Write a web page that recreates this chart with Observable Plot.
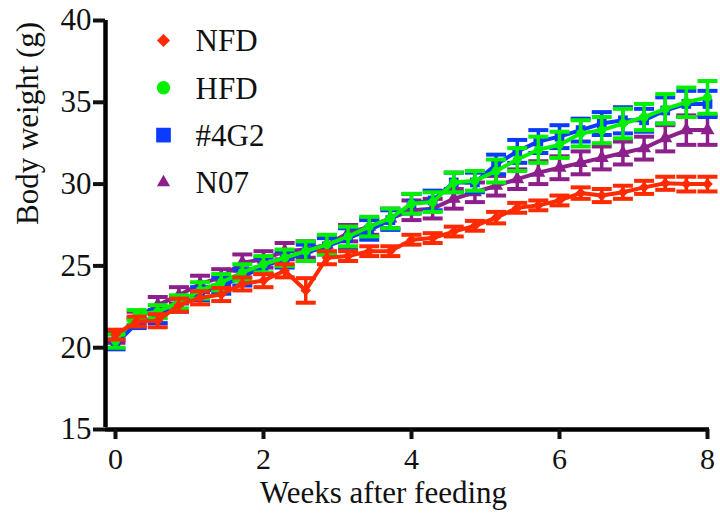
<!DOCTYPE html>
<html>
<head>
<meta charset="utf-8">
<script src="https://cdn.jsdelivr.net/npm/d3@7"></script>
<script src="https://cdn.jsdelivr.net/npm/@observablehq/plot@0.6"></script>
<style>
  html, body { margin: 0; padding: 0; background: #fff; }
  svg text { font-family: "Liberation Serif", "Times New Roman", serif !important; }
</style>
</head>
<body>
<div id="chart"></div>
<script>
const weeks = [0, 0.286, 0.571, 0.857, 1.143, 1.429, 1.714, 2, 2.286, 2.571, 2.857, 3.143, 3.429, 3.714, 4, 4.286, 4.571, 4.857, 5.143, 5.429, 5.714, 6, 6.286, 6.571, 6.857, 7.143, 7.429, 7.714, 8];

const seriesNames = ["NFD", "HFD", "#4G2", "N07"];
const seriesColors = ["#ff2a00", "#00f000", "#0a3cff", "#8c1f8c"];
const seriesSymbols = ["diamond2", "circle", "square", "triangle"];

const nfd = [20.8, 21.6, 21.65, 22.6, 23.05, 23.25, 23.9, 24.1, 24.7, 23.5, 25.5, 25.6, 25.9, 25.9, 26.6, 26.7, 27.1, 27.45, 27.95, 28.55, 28.7, 29.0, 29.45, 29.3, 29.5, 29.8, 30.05, 30.0, 30.0];
const nfdErr = [0.3, 0.3, 0.4, 0.4, 0.4, 0.4, 0.4, 0.4, 0.4, 0.75, 0.4, 0.3, 0.3, 0.3, 0.3, 0.3, 0.3, 0.3, 0.35, 0.3, 0.3, 0.3, 0.35, 0.4, 0.4, 0.4, 0.4, 0.45, 0.45];

const hfd = [20.4, 22.0, 22.2, 22.8, 23.5, 24.0, 24.6, 25.1, 25.5, 25.9, 26.3, 26.8, 27.4, 27.9, 28.8, 28.9, 30.1, 30.2, 30.8, 31.5, 32.1, 32.4, 33.1, 33.3, 33.7, 34.1, 34.6, 35.0, 35.3];
const hfdErr = [0.4, 0.3, 0.4, 0.4, 0.5, 0.5, 0.5, 0.5, 0.5, 0.6, 0.6, 0.6, 0.6, 0.6, 0.6, 0.6, 0.6, 0.6, 0.7, 0.7, 0.8, 0.8, 0.8, 0.8, 0.9, 0.8, 0.9, 0.9, 1.0];

const g4g2 = [20.2, 21.5, 21.9, 22.6, 23.3, 23.8, 24.3, 25.0, 25.4, 25.8, 26.2, 26.7, 27.2, 27.8, 28.8, 29.0, 30.1, 30.1, 31.2, 32.0, 32.6, 32.9, 33.3, 33.7, 33.9, 33.9, 34.5, 34.9, 34.9];
const g4g2Err = [0.3, 0.3, 0.4, 0.4, 0.4, 0.5, 0.5, 0.5, 0.5, 0.5, 0.5, 0.6, 0.6, 0.6, 0.6, 0.6, 0.6, 0.6, 0.6, 0.7, 0.7, 0.7, 0.7, 0.7, 0.8, 0.7, 0.8, 0.8, 0.8];

const n07 = [20.6, 21.8, 22.6, 23.2, 23.9, 24.3, 25.2, 25.4, 25.9, 26.0, 26.3, 27.0, 27.4, 27.9, 28.4, 28.5, 29.1, 29.5, 29.9, 30.3, 30.7, 31.0, 31.3, 31.6, 31.9, 32.2, 32.8, 33.3, 33.3];
const n07Err = [0.3, 0.4, 0.5, 0.5, 0.5, 0.5, 0.5, 0.5, 0.5, 0.5, 0.5, 0.5, 0.5, 0.6, 0.6, 0.6, 0.6, 0.6, 0.6, 0.6, 0.7, 0.7, 0.7, 0.7, 0.7, 0.7, 0.8, 0.9, 0.9];

const xTicks = [0, 2, 4, 6, 8];
const yTicks = [15, 20, 25, 30, 35, 40];
const xDomain = [-0.135, 8];
const yDomain = [15, 40];

const seriesValues = [nfd, hfd, g4g2, n07];
const seriesErrors = [nfdErr, hfdErr, g4g2Err, n07Err];

function rows(k) {
  return weeks.map((w, i) => ({
    series: seriesNames[k], x: w, y: seriesValues[k][i],
    lo: seriesValues[k][i] - seriesErrors[k][i],
    hi: seriesValues[k][i] + seriesErrors[k][i]
  }));
}

const cap = {
  draw(ctx, size) {
    const r = Math.sqrt(size / Math.PI);
    ctx.moveTo(-r, 0);
    ctx.lineTo(r, 0);
  }
};

const markerR = [4.8, 4.5, 5.5, 5.2];
const legendR = [5.9, 6.7, 8.3, 4.9];
const font = "Liberation Serif";

const drawOrder = [3, 2, 1, 0];
const seriesMarks = drawOrder.flatMap(k => {
  const d = rows(k);
  const c = seriesColors[k];
  return [
    Plot.ruleX(d, {x: "x", y1: "lo", y2: "hi", stroke: c, strokeWidth: 3.5}),
    Plot.dot(d, {x: "x", y: "hi", symbol: cap, r: 10, stroke: c, strokeWidth: 4, fill: "none"}),
    Plot.dot(d, {x: "x", y: "lo", symbol: cap, r: 10, stroke: c, strokeWidth: 4, fill: "none"}),
    Plot.line(d, {x: "x", y: "y", stroke: c, strokeWidth: 4}),
    Plot.dot(d, {x: "x", y: "y", symbol: seriesSymbols[k], r: markerR[k], fill: c, stroke: "none"})
  ];
});

const legendMarks = seriesNames.flatMap((name, k) => [
  Plot.dot([name], {frameAnchor: "top-left", dx: 58, dy: 20 + k * 47.3, symbol: seriesSymbols[k], r: legendR[k], fill: seriesColors[k], stroke: "none"}),
  Plot.text([name], {frameAnchor: "top-left", dx: 90, dy: 21 + k * 47.3, text: d => d, textAnchor: "start", fontSize: 31, fontFamily: font, fill: "#111", lineAnchor: "middle"})
]);

const chart = Plot.plot({
  width: 720,
  height: 518,
  marginLeft: 105,
  marginRight: 13,
  marginTop: 20,
  marginBottom: 89,
  style: {fontFamily: font, fontSize: "30px", color: "#111", background: "#fff"},
  x: {domain: xDomain, axis: null},
  y: {domain: yDomain, axis: null},
  marks: [
    ...seriesMarks,
    Plot.ruleY([yDomain[0]], {stroke: "#000", strokeWidth: 4.5, x1: xDomain[0], x2: xDomain[1], insetRight: -2}),
    Plot.ruleX([xDomain[0]], {stroke: "#000", strokeWidth: 4.5, y1: yDomain[0], y2: yDomain[1], insetTop: -2}),
    Plot.axisX({ticks: xTicks, tickSize: 10, strokeWidth: 4, tickPadding: 8, fontSize: 30, fontFamily: font, label: null, fill: "#111"}),
    Plot.axisY({ticks: yTicks, tickSize: 12, strokeWidth: 4, tickPadding: 2, fontSize: 31, fontFamily: font, label: null, fill: "#111"}),
    Plot.text(["Weeks after feeding"], {frameAnchor: "bottom", dx: -23, dy: 73, text: d => d, fontSize: 31, fontFamily: font, fill: "#111"}),
    Plot.text(["Body weight (g)"], {frameAnchor: "left", dx: -77, dy: 0, rotate: -90, text: d => d, fontSize: 31, fontFamily: font, fill: "#111"}),
    ...legendMarks
  ]
});

document.getElementById("chart").appendChild(chart);
</script>
</body>
</html>
